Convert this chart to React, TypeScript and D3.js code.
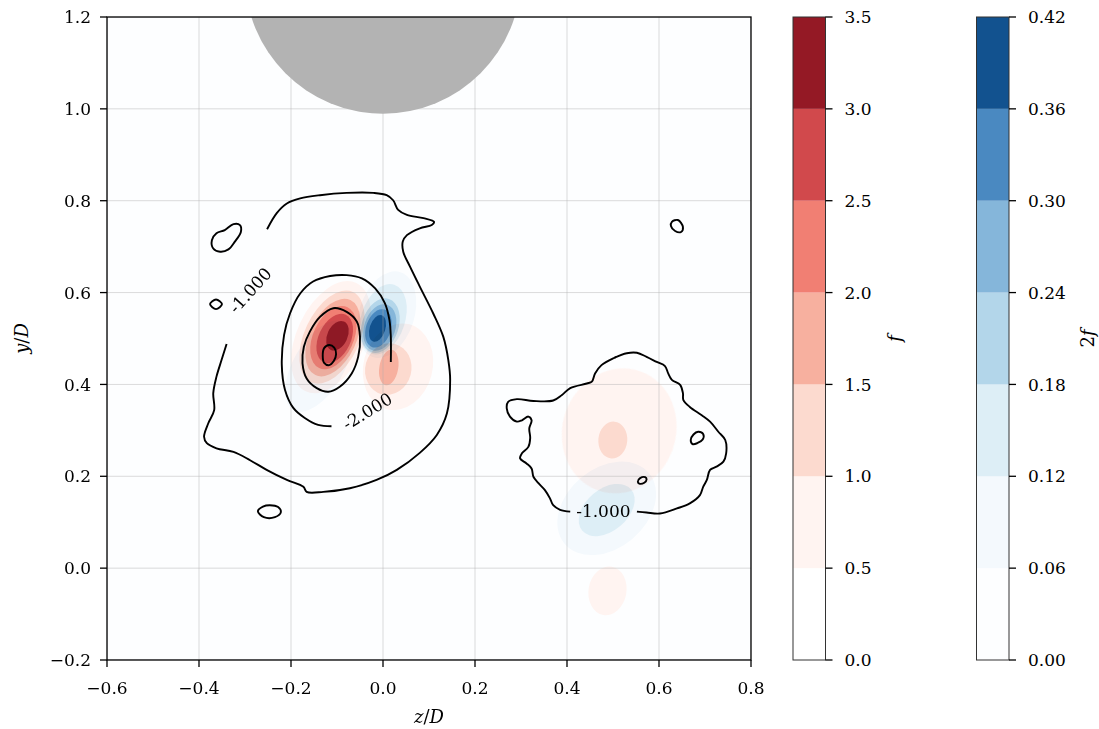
import React from 'react';
import * as d3 from 'd3';

const W = 1099;
const H = 729;

const zTicks = [-0.6, -0.4, -0.2, 0.0, 0.2, 0.4, 0.6, 0.8];
const yTicks = [-0.2, 0.0, 0.2, 0.4, 0.6, 0.8, 1.0, 1.2];

const fLevels = [0, 0.5, 1.0, 1.5, 2.0, 2.5, 3.0, 3.5];
const fColors = ['#ffffff', '#fff4f1', '#fcdacf', '#f7b09f', '#f17f73', '#d1494c', '#941925'];
const f2Levels = [0, 0.06, 0.12, 0.18, 0.24, 0.3, 0.36, 0.42];
const f2Colors = ['#fdfeff', '#f4f9fd', '#ddeef6', '#b3d6ea', '#85b6da', '#4a89c1', '#12528f'];

// filled contour regions of f, read as ellipses: [level, z, y, semi-major, semi-minor, tilt deg]
const fRegions = [
  [0.5, -0.113, 0.503, 0.13, 0.074, 65],
  [1.0, -0.111, 0.503, 0.108, 0.06, 65],
  [1.5, -0.109, 0.502, 0.09, 0.051, 65],
  [2.0, -0.108, 0.502, 0.073, 0.044, 65],
  [2.5, -0.105, 0.5, 0.057, 0.035, 65],
  [3.0, -0.099, 0.506, 0.034, 0.022, 65],
  [0.5, 0.0326, 0.4385, 0.0954, 0.0752, 75],
  [1.0, 0.0115, 0.4335, 0.0565, 0.0502, 75],
  [1.5, 0.0126, 0.4368, 0.039, 0.0205, 80],
  [0.5, 0.5135, 0.2989, 0.1374, 0.1233, 70],
  [1.0, 0.4996, 0.2789, 0.0402, 0.0315, 85],
  [0.5, 0.488, -0.0494, 0.0533, 0.0413, 80],
];

// filled contour regions of 2f
const f2Regions = [
  [0.06, 0.008, 0.552, 0.097, 0.06, 72],
  [0.06, -0.14, 0.44, 0.11, 0.055, 60],
  [0.06, 0.4863, 0.1302, 0.1196, 0.087, 40],
  [0.12, 0.0, 0.542, 0.079, 0.048, 72],
  [0.12, 0.4863, 0.1265, 0.0696, 0.0457, 40],
  [0.18, -0.006, 0.528, 0.061, 0.04, 72],
  [0.24, -0.007, 0.524, 0.052, 0.034, 72],
  [0.3, -0.01, 0.522, 0.043, 0.027, 72],
  [0.36, -0.012, 0.522, 0.03, 0.017, 72],
];

// black contour lines [z, y]
const outerLeft = [
  [-0.252, 0.738], [-0.231, 0.773], [-0.209, 0.794], [-0.18, 0.805], [-0.137, 0.812], [-0.079, 0.817],
  [-0.021, 0.817], [0.008, 0.812], [0.022, 0.801], [0.033, 0.78], [0.052, 0.769], [0.088, 0.762],
  [0.111, 0.754], [0.106, 0.747], [0.08, 0.74], [0.052, 0.725], [0.043, 0.711], [0.044, 0.689],
  [0.059, 0.656], [0.08, 0.613], [0.109, 0.555], [0.131, 0.504], [0.142, 0.453], [0.146, 0.41],
  [0.139, 0.337], [0.117, 0.29], [0.08, 0.251], [0.03, 0.214], [-0.014, 0.192], [-0.072, 0.174],
  [-0.13, 0.166], [-0.166, 0.166], [-0.173, 0.177], [-0.209, 0.192], [-0.253, 0.214], [-0.289, 0.235],
  [-0.325, 0.253], [-0.362, 0.261], [-0.383, 0.272], [-0.389, 0.286], [-0.38, 0.315], [-0.367, 0.344],
  [-0.369, 0.381], [-0.362, 0.417], [-0.351, 0.453], [-0.34, 0.488],
];
const ringTwo = [
  [-0.112, 0.309], [-0.141, 0.312], [-0.17, 0.327], [-0.195, 0.349], [-0.213, 0.388], [-0.22, 0.442],
  [-0.215, 0.508], [-0.202, 0.555], [-0.18, 0.598], [-0.152, 0.624], [-0.115, 0.636], [-0.079, 0.638],
  [-0.046, 0.631], [-0.017, 0.609], [0.004, 0.577], [0.014, 0.54], [0.017, 0.504], [0.017, 0.449],
];
const ringThree = [
  [-0.108, 0.566], [-0.079, 0.558], [-0.057, 0.537], [-0.05, 0.504], [-0.054, 0.46], [-0.068, 0.424],
  [-0.094, 0.395], [-0.119, 0.384], [-0.144, 0.392], [-0.166, 0.413], [-0.175, 0.446], [-0.172, 0.482],
  [-0.159, 0.515], [-0.137, 0.547],
];
const ringFour = [
  [-0.117, 0.486], [-0.106, 0.48], [-0.102, 0.466], [-0.107, 0.451], [-0.117, 0.442], [-0.128, 0.447],
  [-0.131, 0.462], [-0.128, 0.479],
];
const loopUpperLeft = [
  [-0.372, 0.714], [-0.362, 0.729], [-0.344, 0.736], [-0.325, 0.749], [-0.311, 0.747], [-0.309, 0.732],
  [-0.322, 0.711], [-0.336, 0.694], [-0.354, 0.689], [-0.369, 0.696],
];
const loopTiny = [[-0.376, 0.575], [-0.363, 0.585], [-0.35, 0.575], [-0.363, 0.564]];
const loopBottomLeft = [
  [-0.272, 0.124], [-0.261, 0.134], [-0.246, 0.137], [-0.228, 0.133], [-0.222, 0.122], [-0.235, 0.111],
  [-0.259, 0.111],
];
const loopTopRight = [[0.628, 0.754], [0.641, 0.758], [0.652, 0.743], [0.648, 0.732], [0.635, 0.734], [0.626, 0.745]];
const outerRight = [
  [0.407, 0.123], [0.385, 0.127], [0.37, 0.137], [0.363, 0.152], [0.352, 0.17], [0.338, 0.185],
  [0.327, 0.199], [0.323, 0.217], [0.312, 0.228], [0.298, 0.239], [0.302, 0.25], [0.316, 0.264],
  [0.32, 0.283], [0.318, 0.304], [0.323, 0.322], [0.316, 0.33], [0.302, 0.322], [0.291, 0.319],
  [0.276, 0.33], [0.269, 0.348], [0.272, 0.362], [0.291, 0.368], [0.327, 0.364], [0.37, 0.365],
  [0.389, 0.377], [0.407, 0.392], [0.443, 0.402], [0.454, 0.406], [0.461, 0.424], [0.475, 0.442],
  [0.501, 0.457], [0.53, 0.468], [0.552, 0.469], [0.573, 0.46], [0.595, 0.449], [0.613, 0.44],
  [0.62, 0.424], [0.628, 0.41], [0.646, 0.399], [0.652, 0.381], [0.653, 0.366], [0.667, 0.351],
  [0.693, 0.333], [0.711, 0.319], [0.729, 0.297], [0.744, 0.279], [0.746, 0.25], [0.74, 0.232],
  [0.725, 0.221], [0.711, 0.214], [0.704, 0.192], [0.696, 0.177], [0.689, 0.159], [0.667, 0.141],
  [0.639, 0.13], [0.602, 0.119], [0.573, 0.121], [0.552, 0.123],
];
const loopRightA = [[0.669, 0.279], [0.675, 0.291], [0.685, 0.297], [0.696, 0.292], [0.695, 0.28], [0.683, 0.272], [0.673, 0.27]];
const loopRightB = [[0.554, 0.188], [0.559, 0.196], [0.57, 0.198], [0.573, 0.193], [0.568, 0.186], [0.557, 0.184]];

const contourLines = [
  { pts: outerLeft, closed: false },
  { pts: ringTwo, closed: false },
  { pts: ringThree, closed: true },
  { pts: ringFour, closed: true },
  { pts: loopUpperLeft, closed: true },
  { pts: loopTiny, closed: true },
  { pts: loopBottomLeft, closed: true },
  { pts: loopTopRight, closed: true },
  { pts: outerRight, closed: false },
  { pts: loopRightA, closed: true },
  { pts: loopRightB, closed: true },
];

const contourLabels = [
  { text: '-1.000', z: -0.289, y: 0.605, angle: 48 },
  { text: '-2.000', z: -0.034, y: 0.342, angle: 31.5 },
  { text: '-1.000', z: 0.479, y: 0.124, angle: 0 },
];

// cylinder cross-section
const body = { z: 0, y: 1.29, r: 0.3 };

const FONT = 'DejaVu Serif';

export default function App() {
  const margin = { left: 107, right: 751, top: 17, bottom: 660 };
  const x = d3.scaleLinear().domain([-0.6, 0.8]).range([margin.left, margin.right]);
  const y = d3.scaleLinear().domain([-0.2, 1.2]).range([margin.bottom, margin.top]);
  const kx = x(1) - x(0);
  const ky = y(0) - y(1);

  const lineOpen = d3.line<number[]>().x(d => x(d[0])).y(d => y(d[1])).curve(d3.curveCatmullRom.alpha(0.5));
  const lineClosed = d3.line<number[]>().x(d => x(d[0])).y(d => y(d[1])).curve(d3.curveCatmullRomClosed.alpha(0.5));

  const fmt1 = d3.format('.1f');
  const fmt2 = d3.format('.2f');

  const sortByLevel = (arr: number[][]) => [...arr].sort((a, b) => a[0] - b[0]);

  const cbTop = 17, cbBottom = 660;
  const cbF = { x0: 793, x1: 825.5 };
  const cbF2 = { x0: 976.5, x1: 1009 };
  const cyF = d3.scaleLinear().domain([0, 3.5]).range([cbBottom, cbTop]);
  const cyF2 = d3.scaleLinear().domain([0, 0.42]).range([cbBottom, cbTop]);

  const colorbar = (cb: { x0: number; x1: number }, levels: number[], colors: string[], sc: d3.ScaleLinear<number, number>, fmt: (n: number) => string) => (
    <g>
      {colors.map((c, i) => (
        <rect key={i} x={cb.x0} y={sc(levels[i + 1])} width={cb.x1 - cb.x0} height={sc(levels[i]) - sc(levels[i + 1])} fill={c} />
      ))}
      <rect x={cb.x0} y={cbTop} width={cb.x1 - cb.x0} height={cbBottom - cbTop} fill="none" stroke="#333" strokeWidth={1} />
      {levels.map((v, i) => (
        <g key={i}>
          <line x1={cb.x1} x2={cb.x1 + 7} y1={sc(v)} y2={sc(v)} stroke="#000" strokeWidth={1.3} />
          <text x={cb.x1 + 19} y={sc(v)} dy="0.36em" fontSize={17} fontFamily={FONT}>{fmt(v)}</text>
        </g>
      ))}
    </g>
  );

  return (
    <svg width={W} height={H} style={{ position: 'absolute', left: 0, top: 0, background: '#fff' }}>
      <defs>
        <clipPath id="plot">
          <rect x={margin.left} y={margin.top} width={margin.right - margin.left} height={margin.bottom - margin.top} />
        </clipPath>
      </defs>
      <rect x={margin.left} y={margin.top} width={margin.right - margin.left} height={margin.bottom - margin.top} fill={f2Colors[0]} />
      <g clipPath="url(#plot)">
        <g>
          {sortByLevel(fRegions).map((r, i) => (
            <ellipse key={i} cx={0} cy={0} rx={r[3] * kx} ry={r[4] * ky}
              transform={`translate(${x(r[1])},${y(r[2])}) rotate(${-r[5]})`}
              fill={fColors[fLevels.indexOf(r[0])]} />
          ))}
        </g>
        <g style={{ mixBlendMode: 'multiply' }}>
          {sortByLevel(f2Regions).map((r, i) => (
            <ellipse key={i} cx={0} cy={0} rx={r[3] * kx} ry={r[4] * ky}
              transform={`translate(${x(r[1])},${y(r[2])}) rotate(${-r[5]})`}
              fill={f2Colors[f2Levels.indexOf(r[0])]} />
          ))}
        </g>
        {zTicks.map(t => (
          <line key={'gz' + t} x1={x(t)} x2={x(t)} y1={margin.top} y2={margin.bottom} stroke="#b0b0b0" strokeOpacity={0.45} strokeWidth={1} />
        ))}
        {yTicks.map(t => (
          <line key={'gy' + t} x1={margin.left} x2={margin.right} y1={y(t)} y2={y(t)} stroke="#b0b0b0" strokeOpacity={0.45} strokeWidth={1} />
        ))}
        {contourLines.map((c, i) => (
          <path key={i} d={(c.closed ? lineClosed : lineOpen)(c.pts) || ''} fill="none" stroke="#000" strokeWidth={1.9} strokeLinejoin="round" />
        ))}
        {contourLabels.map((l, i) => (
          <text key={i} transform={`translate(${x(l.z)},${y(l.y)}) rotate(${-l.angle})`} textAnchor="middle" dy="0.36em"
            fontSize={17} fontFamily={FONT}>{l.text}</text>
        ))}
        <circle cx={x(body.z)} cy={y(body.y)} r={body.r * kx} fill="#b3b3b3" />
      </g>
      <rect x={margin.left} y={margin.top} width={margin.right - margin.left} height={margin.bottom - margin.top} fill="none" stroke="#000" strokeWidth={1.3} />
      {zTicks.map(t => (
        <g key={'tz' + t}>
          <line x1={x(t)} x2={x(t)} y1={margin.bottom} y2={margin.bottom + 7} stroke="#000" strokeWidth={1.3} />
          <text x={x(t)} y={margin.bottom + 34} textAnchor="middle" fontSize={17} fontFamily={FONT}>{fmt1(t)}</text>
        </g>
      ))}
      {yTicks.map(t => (
        <g key={'ty' + t}>
          <line x1={margin.left - 7} x2={margin.left} y1={y(t)} y2={y(t)} stroke="#000" strokeWidth={1.3} />
          <text x={margin.left - 16} y={y(t)} dy="0.36em" textAnchor="end" fontSize={17} fontFamily={FONT}>{fmt1(t)}</text>
        </g>
      ))}
      <text x={(margin.left + margin.right) / 2} y={723} textAnchor="middle" fontSize={18} fontFamily={FONT}>
        <tspan fontStyle="italic">z</tspan>/<tspan fontStyle="italic">D</tspan>
      </text>
      <text transform={`translate(28,${(margin.top + margin.bottom) / 2}) rotate(-90)`} textAnchor="middle" fontSize={18} fontFamily={FONT}>
        <tspan fontStyle="italic">y</tspan>/<tspan fontStyle="italic">D</tspan>
      </text>
      {colorbar(cbF, fLevels, fColors, cyF, fmt1)}
      {colorbar(cbF2, f2Levels, f2Colors, cyF2, fmt2)}
      <text transform={`translate(901,${(cbTop + cbBottom) / 2}) rotate(-90)`} textAnchor="middle" fontSize={18} fontFamily={FONT}>
        <tspan fontStyle="italic">f</tspan>
      </text>
      <text transform={`translate(1094,${(cbTop + cbBottom) / 2}) rotate(-90)`} textAnchor="middle" fontSize={18} fontFamily={FONT}>
        2<tspan fontStyle="italic">f</tspan>
      </text>
    </svg>
  );
}
